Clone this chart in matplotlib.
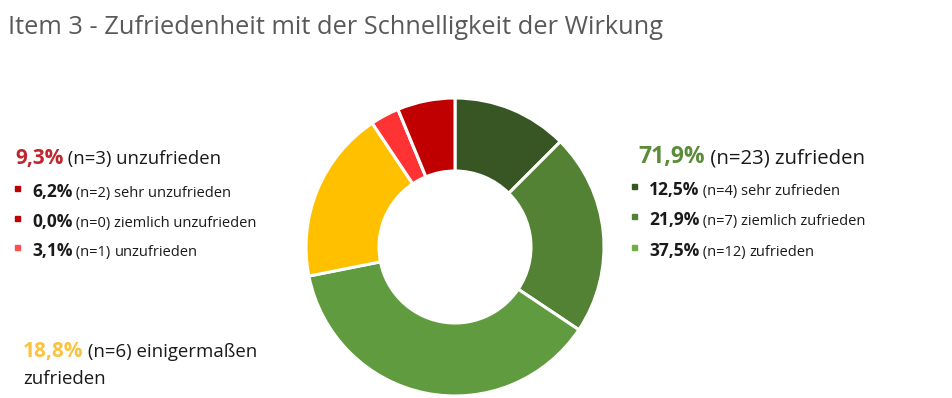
import matplotlib
matplotlib.use('Agg')
import matplotlib.pyplot as plt

# data
categories = ['sehr zufrieden', 'ziemlich zufrieden', 'zufrieden',
              'einigermaßen zufrieden', 'unzufrieden', 'ziemlich unzufrieden',
              'sehr unzufrieden']
counts = [4, 7, 12, 6, 1, 0, 2]
colors = ['#375623', '#548235', '#609B3F', '#FFC000', '#FF3333', '#C00000', '#C00000']

pos_pct = ['12,5%', '21,9%', '37,5%']
pos_n = ['(n=4)', '(n=7)', '(n=12)']
pos_lbl = ['sehr zufrieden', 'ziemlich zufrieden', 'zufrieden']
pos_col = ['#375623', '#548235', '#70AD47']

neg_pct = ['6,2%', '0,0%', '3,1%']
neg_n = ['(n=2)', '(n=0)', '(n=1)']
neg_lbl = ['sehr unzufrieden', 'ziemlich unzufrieden', 'unzufrieden']
neg_col = ['#C00000', '#C00000', '#FF5050']

W, H = 953, 398
plt.rcParams['font.family'] = ['Open Sans', 'DejaVu Sans']
fig = plt.figure(figsize=(W / 100, H / 100), dpi=100)
fig.patch.set_facecolor('white')

# donut
cx, cy, r = 455, 247, 149
ax = fig.add_axes([(cx - r) / W, 1 - (cy + r) / H, 2 * r / W, 2 * r / H])
ax.pie(counts, colors=colors, startangle=90, counterclock=False, radius=1,
       wedgeprops=dict(width=0.49, edgecolor='white', linewidth=2.2))
ax.set_xlim(-1.0, 1.0)
ax.set_ylim(-1.0, 1.0)
ax.set_aspect('equal')
ax.axis('off')

renderer = fig.canvas.get_renderer()


def rich(x, y, parts):
    # parts: list of (text, size, weight, color); x, y in pixels from top-left, y = baseline
    for txt, size, weight, col in parts:
        t = fig.text(x / W, 1 - y / H, txt, fontsize=size, fontweight=weight,
                     color=col, va='baseline', ha='left')
        x += t.get_window_extent(renderer).width


fig.text(8 / W, 1 - 34 / H, 'Item 3 - Zufriedenheit mit der Schnelligkeit der Wirkung',
         fontsize=18.3, color='#595959', va='baseline', ha='left')

txt_col = '#1a1a1a'

# left block
rich(15, 164, [('9,3%', 15, 'bold', '#C0272D'), (' (n=3) unzufrieden', 13.3, 'normal', txt_col)])
for i, yb in enumerate([197, 227, 256]):
    fig.patches.append(plt.Rectangle((15 / W, 1 - (yb - 6) / H), 5 / W, 5 / H,
                                     transform=fig.transFigure, color=neg_col[i]))
    rich(32, yb, [(neg_pct[i], 12.5, 'bold', txt_col), (' ' + neg_n[i] + ' ', 10.5, 'normal', txt_col),
                  (neg_lbl[i], 10.5, 'normal', txt_col)])

# right block
rich(638, 163, [('71,9%', 16.5, 'bold', '#5B8C3A'), (' (n=23) zufrieden', 14.7, 'normal', txt_col)])
for i, yb in enumerate([195, 225, 256]):
    fig.patches.append(plt.Rectangle((632 / W, 1 - (yb - 6) / H), 5 / W, 5 / H,
                                     transform=fig.transFigure, color=pos_col[i]))
    rich(649, yb, [(pos_pct[i], 12.5, 'bold', txt_col), (' ' + pos_n[i] + ' ', 10.5, 'normal', txt_col),
                   (pos_lbl[i], 10.5, 'normal', txt_col)])

# bottom-left block
rich(23, 357, [('18,8%', 15, 'bold', '#F9C340'), (' (n=6) einigermaßen', 13.4, 'normal', txt_col)])
rich(23, 384, [('zufrieden', 13.4, 'normal', txt_col)])

fig.savefig('out.png', dpi=100, facecolor='white')
